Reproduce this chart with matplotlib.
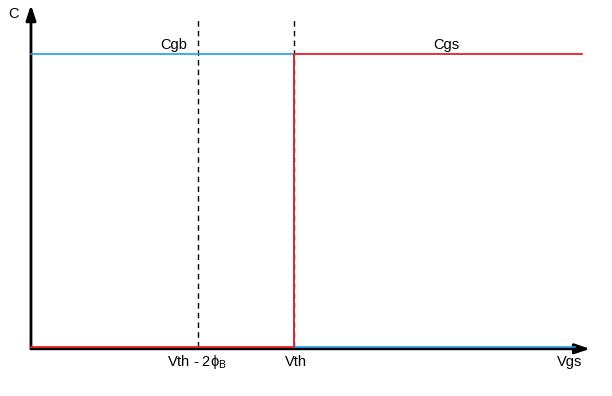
import matplotlib
matplotlib.use("Agg")
import matplotlib.pyplot as plt

plt.rcParams["font.family"] = ["Liberation Sans", "DejaVu Sans"]
plt.rcParams["mathtext.fontset"] = "custom"
plt.rcParams["mathtext.rm"] = "Liberation Sans"
plt.rcParams["mathtext.it"] = "Liberation Sans"

# gate voltage landmarks (arbitrary units)
VTH = 5.0
TWO_PHI_B = 1.83
VGS_MAX = 10.47
# normalised capacitance
COX = 1.0

# Cgb: Cox below Vth, zero above
cgb_x = [0.0, VTH, VTH, VGS_MAX - 0.13]
cgb_y = [COX, COX, 0.0, 0.0]
# Cgs: zero below Vth, Cox above
cgs_x = [0.0, VTH, VTH, VGS_MAX]
cgs_y = [0.0, 0.0, COX, COX]

BLUE = "#1e9cf5"
RED = "#ee1c24"

fig = plt.figure(figsize=(6.12, 3.96), dpi=100)
ax = fig.add_axes([0, 0, 1, 1])
ax.set_xlim(-0.589, 11.045)
ax.set_ylim(-0.167, 1.184)
ax.axis("off")

# dashed markers
for xv in (VTH - TWO_PHI_B, VTH):
    ax.plot([xv, xv], [0, 1.116], color="black", lw=1.0, ls=(0, (4, 3)), zorder=1)

ax.plot(cgb_x, cgb_y, color=BLUE, lw=1.2, zorder=3)
ax.plot(cgs_x, cgs_y, color=RED, lw=1.3, zorder=4)

# axes with arrows
arrow = dict(arrowstyle="-|>,head_length=0.9,head_width=0.3", color="black",
             lw=2.0, shrinkA=0, shrinkB=0)
ax.annotate("", xy=(10.63, -0.006), xytext=(0, -0.006), arrowprops=arrow, zorder=2)
ax.annotate("", xy=(0, 1.167), xytext=(0, -0.006), arrowprops=arrow, zorder=2)

fs = 10.5
ax.text(-0.34, 1.135, "C", fontsize=fs, ha="center", va="center")
ax.text(VGS_MAX - 0.23, -0.05, "Vgs", fontsize=fs, ha="center", va="center")
ax.text(VTH + 0.04, -0.05, "Vth", fontsize=fs, ha="center", va="center")
ax.text(VTH - TWO_PHI_B - 0.02, -0.05, r"Vth - 2$\phi_{\mathrm{B}}$", fontsize=fs,
        ha="center", va="center")
ax.text(2.72, COX + 0.03, "Cgb", fontsize=fs, ha="center", va="center")
ax.text(7.9, COX + 0.03, "Cgs", fontsize=fs, ha="center", va="center")

fig.savefig("out.png", dpi=100)
